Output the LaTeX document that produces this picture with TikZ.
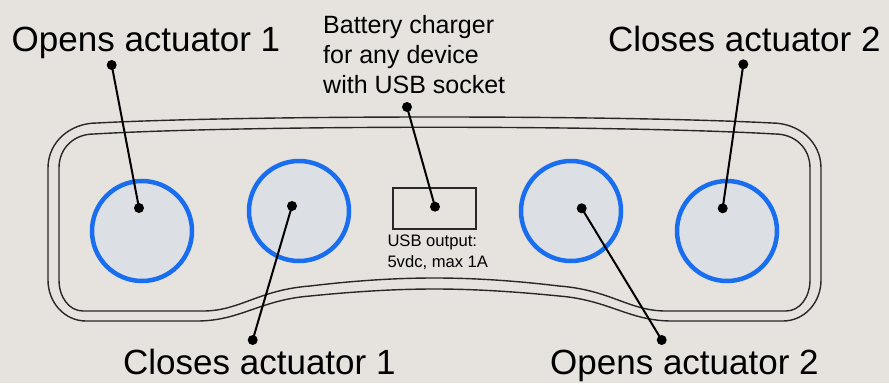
\documentclass[tikz,border=0pt]{standalone}
\usepackage{fontspec}
\setmainfont{Liberation Sans}
\definecolor{bgc}{RGB}{230,226,222}
\definecolor{knobfill}{RGB}{220,223,228}
\definecolor{knobblue}{RGB}{24,110,238}
\definecolor{panelline}{RGB}{40,40,40}
\begin{document}
\begin{tikzpicture}[x=1pt,y=-1pt,
  panel/.style={draw=panelline,line width=1.4pt},
  knob/.style={circle,draw=knobblue,fill=knobfill,line width=4.5pt,minimum size=100pt,inner sep=0pt},
  dotnode/.style={circle,fill=black,minimum size=10pt,inner sep=0pt},
  leader/.style={draw=black,line width=2pt},
  biglabel/.style={anchor=base west,inner sep=0pt,font=\fontsize{35}{40}\selectfont},
  midlabel/.style={anchor=base west,inner sep=0pt,font=\fontsize{25}{30}\selectfont},
  smalllabel/.style={anchor=base west,inner sep=0pt,font=\fontsize{16.6}{20}\selectfont},
  usbbox/.style={draw=panelline,line width=1.3pt,minimum width=83pt,minimum height=41pt,inner sep=0pt}
]
\fill[bgc] (0,0) rectangle (889,383);
\useasboundingbox (0,0) rectangle (889,383);
% outer panel outline
\draw[panel] (48,280) -- (48,168) .. controls (48,142) and (70,123) .. (97,123)
  .. controls (250,115) and (619,115) .. (772,123)
  .. controls (799,123) and (821,142) .. (821,168) -- (821,280)
  .. controls (821,303) and (804,321) .. (783,321) -- (672,321)
  .. controls (629,321) and (609,300) .. (559,296)
  .. controls (509,291) and (469,289) .. (434.5,289)
  .. controls (400,289) and (360,291) .. (310,296)
  .. controls (260,300) and (240,321) .. (197,321) -- (86,321)
  .. controls (65,321) and (48,303) .. (48,280) -- cycle;
% inner panel outline
\draw[panel] (59,280) -- (59,168) .. controls (59,148) and (74,134) .. (94,134)
  .. controls (250,125) and (619,125) .. (775,134)
  .. controls (795,134) and (810,148) .. (810,168) -- (810,280)
  .. controls (810,297) and (800,311) .. (786,311) -- (666,311)
  .. controls (629,311) and (611,290) .. (559,286)
  .. controls (509,280) and (469,278) .. (434.5,278)
  .. controls (400,278) and (360,280) .. (310,286)
  .. controls (258,290) and (240,311) .. (203,311) -- (83,311)
  .. controls (69,311) and (59,297) .. (59,280) -- cycle;
% USB box
\node[usbbox] (usb) at (434.5,208.5) {};
% knobs
\node[knob] (k1) at (142,231) {};
\node[knob] (k2) at (299,211) {};
\node[knob] (k3) at (571,211) {};
\node[knob] (k4) at (727,231) {};
% labels
\node[biglabel] (l1) at (11.5,51.7) {Opens actuator 1};
\node[biglabel] (l4) at (608,51.7) {Closes actuator 2};
\node[biglabel] (l2) at (123,374.3) {Closes actuator 1};
\node[biglabel] (l3) at (550,374.3) {Opens actuator 2};
\node[midlabel] (b1) at (323,33.3) {Battery charger};
\node[midlabel] (b2) at (323,63.3) {for any device};
\node[midlabel] (b3) at (323,93.3) {with USB socket};
\node[smalllabel] (u1) at (387.3,246) {USB output:};
\node[smalllabel] (u2) at (387.3,267) {5vdc, max 1A};
% dots
\node[dotnode] (p1a) at (111.7,65) {};
\node[dotnode] (p1b) at (139,208) {};
\node[dotnode] (p2a) at (252.7,340) {};
\node[dotnode] (p2b) at (292,206) {};
\node[dotnode] (p3a) at (661.7,340) {};
\node[dotnode] (p3b) at (581.7,208.3) {};
\node[dotnode] (p4a) at (743.3,64.3) {};
\node[dotnode] (p4b) at (722.7,208.3) {};
\node[dotnode] (p5a) at (407,107) {};
\node[dotnode] (p5b) at (435,206.7) {};
% leaders
\draw[leader] (p1a.center) -- (p1b.center);
\draw[leader] (p2a.center) -- (p2b.center);
\draw[leader] (p3a.center) -- (p3b.center);
\draw[leader] (p4a.center) -- (p4b.center);
\draw[leader] (p5a.center) -- (p5b.center);
\end{tikzpicture}
\end{document}
